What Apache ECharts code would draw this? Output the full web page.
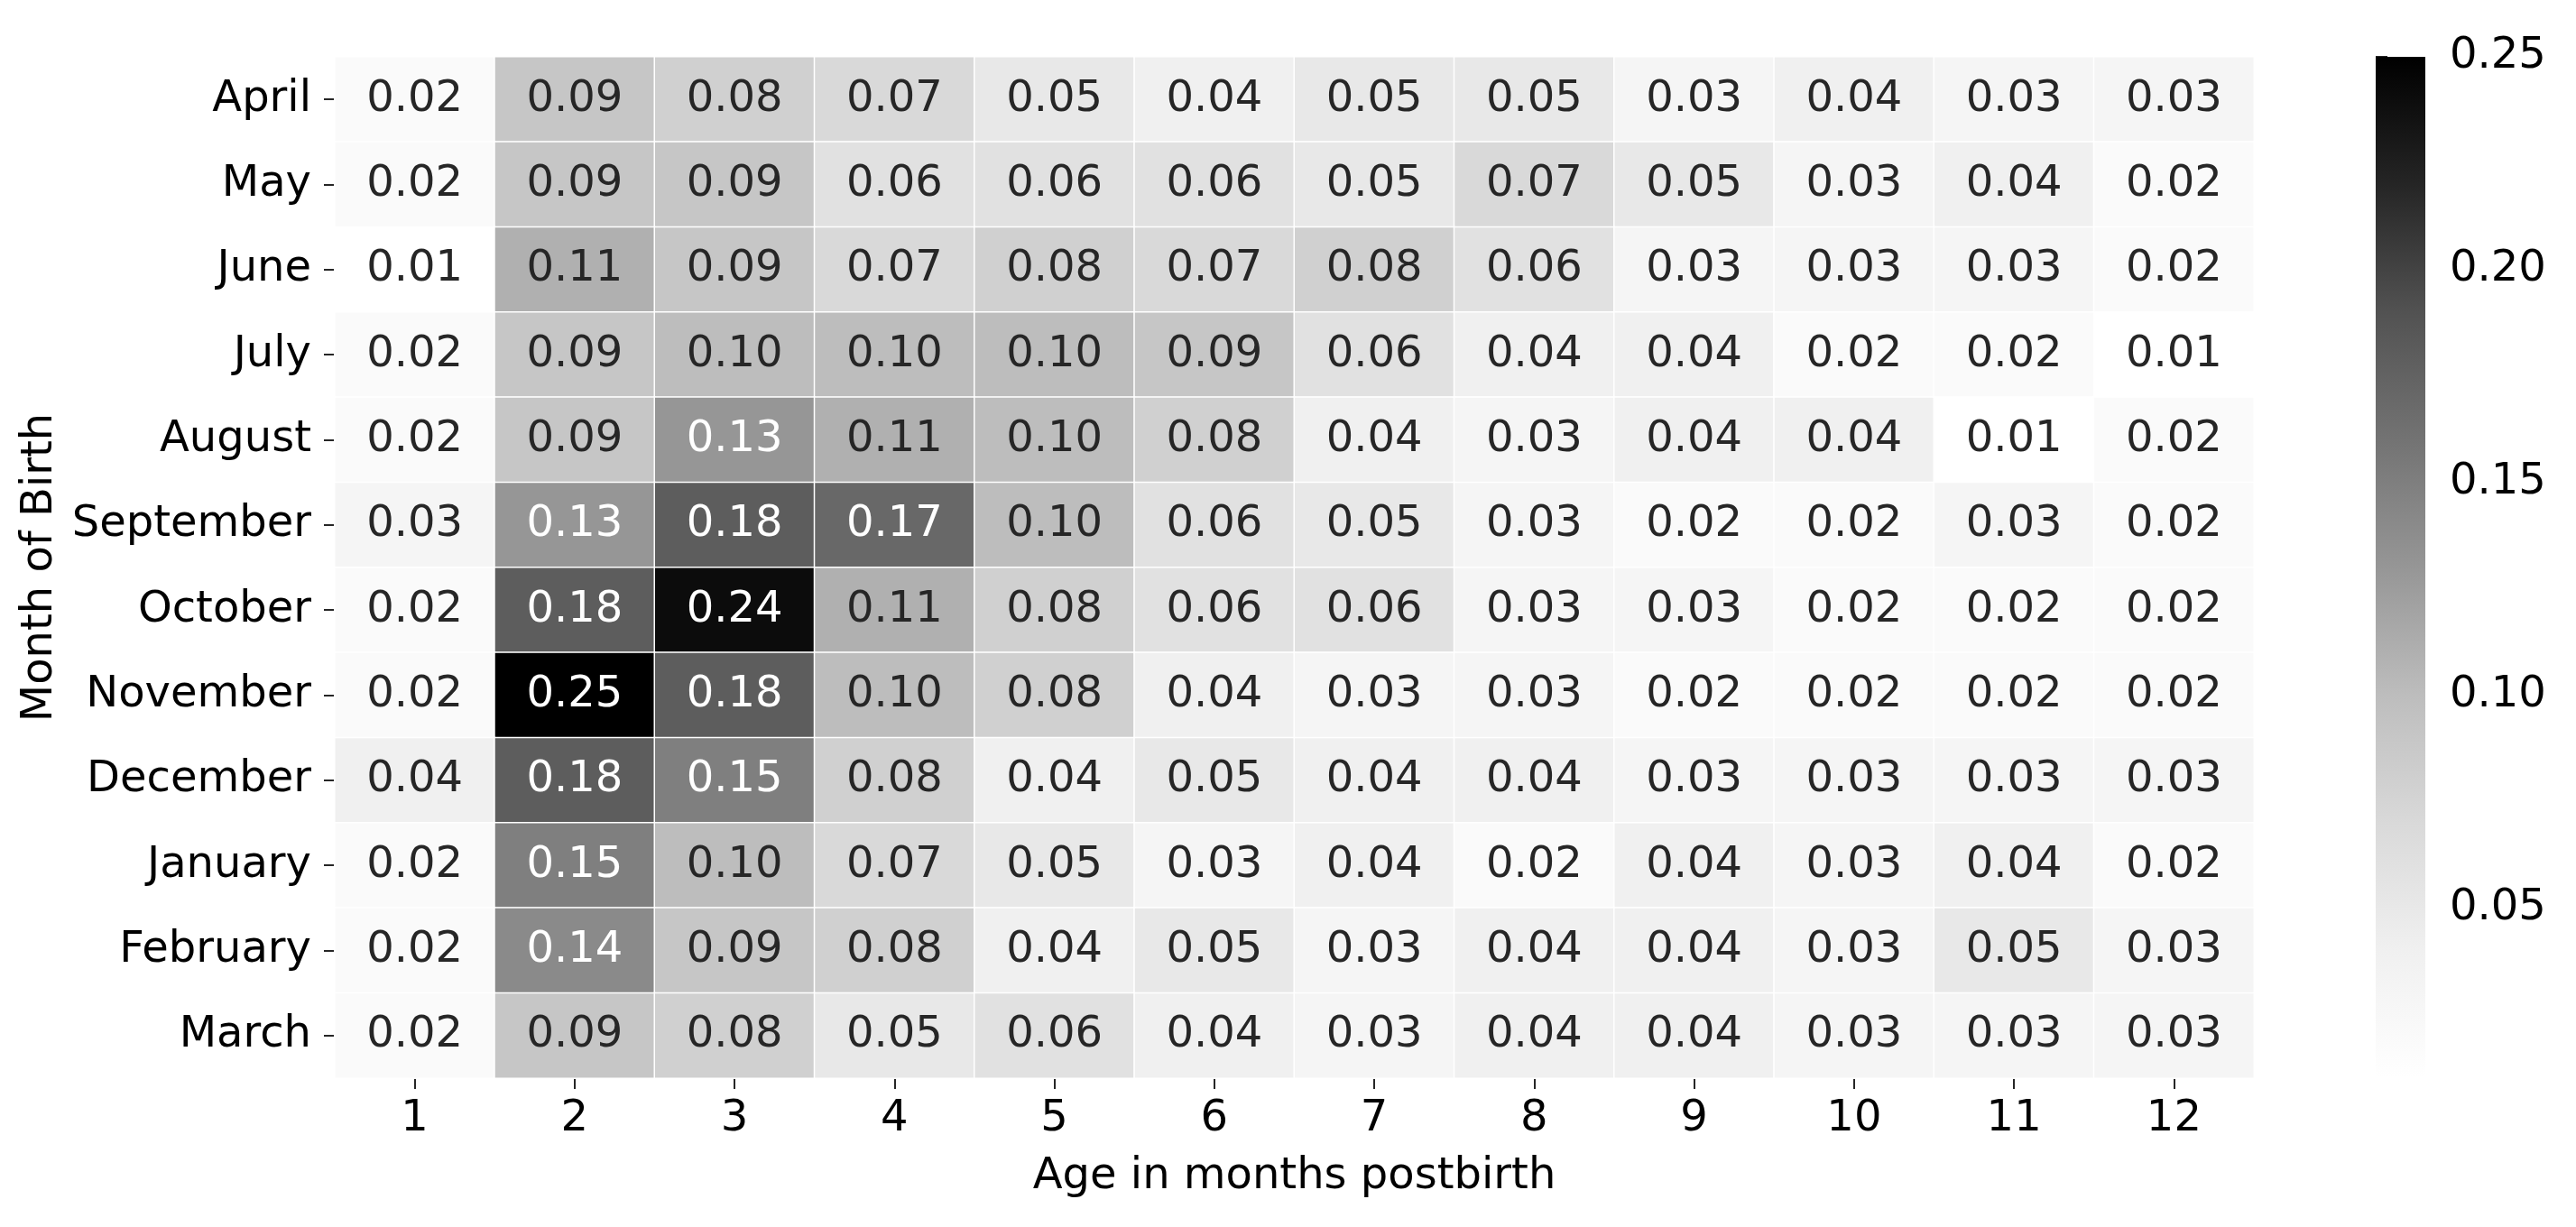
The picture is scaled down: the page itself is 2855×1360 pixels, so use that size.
<!DOCTYPE html>
<html>
<head>
<meta charset="utf-8">
<script src="https://cdn.jsdelivr.net/npm/echarts@6/dist/echarts.min.js"></script>
<style>
  html, body { margin: 0; padding: 0; background: #fff; }
  #chart { width: 2855px; height: 1360px; }
</style>
</head>
<body>
<div id="chart"></div>
<script>
// months of birth, top row first
var birthMonths = ['April', 'May', 'June', 'July', 'August', 'September', 'October', 'November', 'December', 'January', 'February', 'March']
// age in months postbirth
var ages = ['1', '2', '3', '4', '5', '6', '7', '8', '9', '10', '11', '12']

// one row per month of birth, columns = age 1..12
var aprilRow = [0.02, 0.09, 0.08, 0.07, 0.05, 0.04, 0.05, 0.05, 0.03, 0.04, 0.03, 0.03]
var mayRow = [0.02, 0.09, 0.09, 0.06, 0.06, 0.06, 0.05, 0.07, 0.05, 0.03, 0.04, 0.02]
var juneRow = [0.01, 0.11, 0.09, 0.07, 0.08, 0.07, 0.08, 0.06, 0.03, 0.03, 0.03, 0.02]
var julyRow = [0.02, 0.09, 0.10, 0.10, 0.10, 0.09, 0.06, 0.04, 0.04, 0.02, 0.02, 0.01]
var augustRow = [0.02, 0.09, 0.13, 0.11, 0.10, 0.08, 0.04, 0.03, 0.04, 0.04, 0.01, 0.02]
var septemberRow = [0.03, 0.13, 0.18, 0.17, 0.10, 0.06, 0.05, 0.03, 0.02, 0.02, 0.03, 0.02]
var octoberRow = [0.02, 0.18, 0.24, 0.11, 0.08, 0.06, 0.06, 0.03, 0.03, 0.02, 0.02, 0.02]
var novemberRow = [0.02, 0.25, 0.18, 0.10, 0.08, 0.04, 0.03, 0.03, 0.02, 0.02, 0.02, 0.02]
var decemberRow = [0.04, 0.18, 0.15, 0.08, 0.04, 0.05, 0.04, 0.04, 0.03, 0.03, 0.03, 0.03]
var januaryRow = [0.02, 0.15, 0.10, 0.07, 0.05, 0.03, 0.04, 0.02, 0.04, 0.03, 0.04, 0.02]
var februaryRow = [0.02, 0.14, 0.09, 0.08, 0.04, 0.05, 0.03, 0.04, 0.04, 0.03, 0.05, 0.03]
var marchRow = [0.02, 0.09, 0.08, 0.05, 0.06, 0.04, 0.03, 0.04, 0.04, 0.03, 0.03, 0.03]

var rows = [aprilRow, mayRow, juneRow, julyRow, augustRow, septemberRow, octoberRow,
  novemberRow, decemberRow, januaryRow, februaryRow, marchRow]

// colour bar range and ticks
var scaleMin = 0.01
var scaleMax = 0.25
var barTicks = [0.05, 0.10, 0.15, 0.20, 0.25]

// matplotlib "Greys"
var greys = ['#ffffff', '#f0f0f0', '#d9d9d9', '#bdbdbd', '#969696', '#737373', '#525252', '#252525', '#000000']

var font = 'DejaVu Sans'
var tickColor = '#262626'

var cells = []
rows.forEach(function(row, y) {
  row.forEach(function(v, x) {
    cells.push({
      value: [x, y, v],
      label: { color: v >= 0.12 ? '#ffffff' : '#262626' }
    })
  })
})

var chart = echarts.init(document.getElementById('chart'))

chart.setOption({
  animation: false,
  backgroundColor: '#fff',
  grid: [
    { left: 371, top: 63, width: 2127, height: 1132 },
    { left: 2633, top: 63, width: 55, height: 1132 }
  ],
  xAxis: [
    {
      type: 'category',
      gridIndex: 0,
      data: ages,
      name: 'Age in months postbirth',
      nameLocation: 'middle',
      nameGap: 86,
      nameTextStyle: { fontFamily: font, fontSize: 48, color: '#000' },
      axisLine: { show: false },
      axisTick: { show: true, alignWithLabel: true, length: 12, lineStyle: { color: tickColor, width: 2 } },
      axisLabel: { fontFamily: font, fontSize: 48, color: '#000', margin: 22 },
      splitLine: { show: false },
      splitArea: { show: false }
    },
    {
      type: 'value',
      gridIndex: 1,
      min: 0,
      max: 1,
      show: false
    }
  ],
  yAxis: [
    {
      type: 'category',
      gridIndex: 0,
      data: birthMonths,
      inverse: true,
      name: 'Month of Birth',
      nameLocation: 'middle',
      nameRotate: 90,
      nameGap: 297,
      nameTextStyle: { fontFamily: font, fontSize: 48, color: '#000' },
      axisLine: { show: false },
      axisTick: { show: true, alignWithLabel: true, length: 12, lineStyle: { color: tickColor, width: 2 } },
      axisLabel: { fontFamily: font, fontSize: 48, color: '#000', margin: 26 },
      splitLine: { show: false },
      splitArea: { show: false }
    },
    {
      type: 'value',
      gridIndex: 1,
      position: 'right',
      min: scaleMin,
      max: scaleMax,
      axisLine: { show: false },
      splitLine: { show: false },
      axisTick: {
        show: true,
        length: 13,
        customValues: barTicks,
        lineStyle: { color: tickColor, width: 2 }
      },
      axisLabel: {
        fontFamily: font,
        fontSize: 48,
        color: '#000',
        margin: 27,
        customValues: barTicks,
        formatter: function(v) { return v.toFixed(2) }
      }
    }
  ],
  visualMap: {
    show: false,
    type: 'continuous',
    seriesIndex: 0,
    min: scaleMin,
    max: scaleMax,
    inRange: { color: greys }
  },
  series: [
    {
      type: 'heatmap',
      xAxisIndex: 0,
      yAxisIndex: 0,
      data: cells,
      itemStyle: { borderColor: '#ffffff', borderWidth: 1.5 },
      label: {
        show: true,
        fontFamily: font,
        fontSize: 48,
        formatter: function(p) { return p.value[2].toFixed(2) }
      },
      emphasis: { disabled: true }
    },
    {
      // colour bar
      type: 'custom',
      xAxisIndex: 1,
      yAxisIndex: 1,
      silent: true,
      data: [[scaleMin, scaleMax]],
      renderItem: function(params, api) {
        var p0 = api.coord([0, api.value(1)])
        var p1 = api.coord([1, api.value(0)])
        return {
          type: 'rect',
          shape: { x: p0[0], y: p0[1], width: p1[0] - p0[0], height: p1[1] - p0[1] },
          style: {
            fill: new echarts.graphic.LinearGradient(0, 1, 0, 0, greys.map(function(c, i) {
              return { offset: i / (greys.length - 1), color: c }
            }))
          }
        }
      }
    }
  ]
})
</script>
</body>
</html>
